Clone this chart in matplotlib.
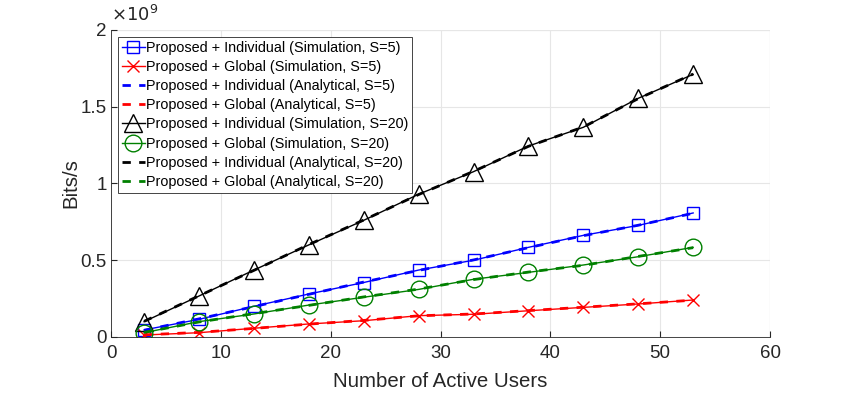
import numpy as np
import matplotlib.pyplot as plt
from matplotlib.ticker import FuncFormatter

plt.rcParams['font.family'] = ['Liberation Sans', 'DejaVu Sans']

# Data (bits/s in units of 1e9)
users = [3, 8, 13, 18, 23, 28, 33, 38, 43, 48, 53]
ind_sim_s5 = [0.046, 0.115, 0.200, 0.280, 0.355, 0.436, 0.500, 0.584, 0.662, 0.727, 0.808]
glob_sim_s5 = [0.013, 0.028, 0.057, 0.085, 0.106, 0.139, 0.148, 0.171, 0.193, 0.215, 0.241]
ind_ana_s5 = [0.044, 0.118, 0.198, 0.278, 0.358, 0.434, 0.502, 0.582, 0.660, 0.728, 0.806]
glob_ana_s5 = [0.014, 0.030, 0.056, 0.084, 0.108, 0.138, 0.150, 0.172, 0.194, 0.216, 0.240]
ind_sim_s20 = [0.100, 0.267, 0.436, 0.600, 0.760, 0.930, 1.077, 1.244, 1.366, 1.555, 1.711]
glob_sim_s20 = [0.028, 0.100, 0.150, 0.208, 0.259, 0.310, 0.376, 0.421, 0.469, 0.523, 0.584]
ind_ana_s20 = [0.102, 0.268, 0.434, 0.602, 0.762, 0.928, 1.079, 1.242, 1.368, 1.553, 1.713]
glob_ana_s20 = [0.030, 0.098, 0.152, 0.206, 0.261, 0.312, 0.374, 0.423, 0.467, 0.525, 0.582]

scale = 1e9
green = (0.0, 0.5, 0.0)
dark = '#262626'

fig = plt.figure(figsize=(8.55, 3.93), dpi=100)
ax = fig.add_axes([0.130, 0.1425, 0.7706, 0.7812])

x = np.array(users)
ax.plot(x, np.array(ind_sim_s5) * scale, color='blue', lw=1, marker='s', ms=9,
        mfc='none', mew=1, label='Proposed + Individual (Simulation, S=5)')
ax.plot(x, np.array(glob_sim_s5) * scale, color='red', lw=1, marker='x', ms=9,
        mew=1, label='Proposed + Global (Simulation, S=5)')
ax.plot(x, np.array(ind_ana_s5) * scale, color='blue', lw=2, ls=(0, (3, 3)),
        label='Proposed + Individual (Analytical, S=5)')
ax.plot(x, np.array(glob_ana_s5) * scale, color='red', lw=2, ls=(0, (3, 3)),
        label='Proposed + Global (Analytical, S=5)')
ax.plot(x, np.array(ind_sim_s20) * scale, color='black', lw=1, marker='^', ms=13,
        mfc='none', mew=1, label='Proposed + Individual (Simulation, S=20)')
ax.plot(x, np.array(glob_sim_s20) * scale, color=green, lw=1, marker='o', ms=12,
        mfc='none', mew=1, label='Proposed + Global (Simulation, S=20)')
ax.plot(x, np.array(ind_ana_s20) * scale, color='black', lw=2, ls=(0, (3, 3)),
        label='Proposed + Individual (Analytical, S=20)')
ax.plot(x, np.array(glob_ana_s20) * scale, color=green, lw=2, ls=(0, (3, 3)),
        label='Proposed + Global (Analytical, S=20)')

ax.set_xlim(0, 60)
ax.set_ylim(0, 2e9)
ax.set_xticks(range(0, 61, 10))
ax.set_yticks(np.arange(0, 2.01, 0.5) * scale)
ax.yaxis.set_major_formatter(FuncFormatter(lambda v, p: '%g' % (v / scale)))
ax.text(0, 1.015, r'$\times 10^9$', transform=ax.transAxes, fontsize=13,
        color=dark, va='bottom', ha='left')

ax.tick_params(direction='in', length=4, labelsize=13.5, colors=dark)
ax.tick_params(axis='x', pad=6)
ax.tick_params(axis='y', pad=3)
ax.spines['top'].set_visible(False)
ax.spines['right'].set_visible(False)
for s in ['left', 'bottom']:
    ax.spines[s].set_color(dark)
    ax.spines[s].set_linewidth(0.6)
ax.grid(True, color='#e6e6e6', lw=0.8)
ax.set_axisbelow(True)
# light frame lines at the far grid positions (top and right)
ax.axhline(2e9, color='#e6e6e6', lw=0.8, zorder=0)
ax.axvline(60, color='#e6e6e6', lw=0.8, zorder=0)

ax.set_xlabel('Number of Active Users', fontsize=14.7, color=dark, labelpad=7)
ax.set_ylabel('Bits/s', fontsize=14.7, color=dark, labelpad=0)

leg = ax.legend(loc='upper left', fontsize=10.35, handlelength=1.6, handletextpad=0.1,
                borderpad=0.25, labelspacing=0.36, borderaxespad=0.5,
                fancybox=False, framealpha=1, edgecolor=dark)
leg.get_frame().set_linewidth(0.6)

fig.savefig('out.png', dpi=100)
